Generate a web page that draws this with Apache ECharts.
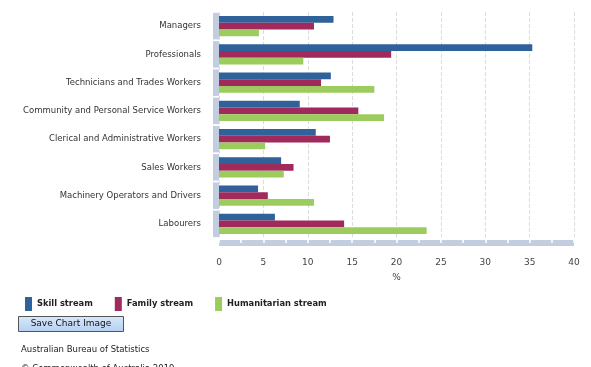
<!DOCTYPE html>
<html><head><meta charset="utf-8">
<script src="https://cdn.jsdelivr.net/npm/echarts@6/dist/echarts.min.js"></script>
<style>html,body{margin:0;padding:0;background:#fff}#c{width:591px;height:367px}</style>
</head><body><div id="c"></div>
<script>
const categories = ["Managers","Professionals","Technicians and Trades Workers","Community and Personal Service Workers","Clerical and Administrative Workers","Sales Workers","Machinery Operators and Drivers","Labourers"];
const skill = [12.9, 35.3, 12.6, 9.1, 10.9, 7.0, 4.4, 6.3];
const family = [10.7, 19.4, 11.5, 15.7, 12.5, 8.4, 5.5, 14.1];
const humanitarian = [4.5, 9.5, 17.5, 18.6, 5.2, 7.3, 10.7, 23.4];
const xTicks = [0, 5, 10, 15, 20, 25, 30, 35, 40];

const font = "DejaVu Sans";
const wallColor = '#c3cde0';
const chart = echarts.init(document.getElementById('c'), null, {renderer:'canvas'});
chart.setOption({
  animation:false,
  textStyle:{fontFamily:font},
  grid:[
    {left:219, right:17, top:12, bottom:129, containLabel:false},
    {left:213, width:6, top:12, bottom:129, containLabel:false}
  ],
  legend:{
    left:20, top:292, itemWidth:7, itemHeight:14, itemGap:22,
    icon:'rect',
    textStyle:{fontFamily:font, fontSize:8.3, fontWeight:'bold', color:'#222'},
    data:['Skill stream','Family stream','Humanitarian stream']
  },
  xAxis:[{
    gridIndex:0,
    type:'value', min:xTicks[0], max:xTicks[xTicks.length-1], interval:5,
    name:'%', nameLocation:'middle', nameGap:30,
    nameTextStyle:{fontFamily:font, fontSize:9, color:'#444'},
    offset:5,
    axisLine:{show:true, lineStyle:{color:wallColor, width:6, cap:'butt'}},
    axisTick:{show:true, inside:true, length:6, lineStyle:{color:'#fff', width:1.5}},
    minorTick:{show:true, splitNumber:2, length:6, lineStyle:{color:'#fff', width:1.5}},
    axisLabel:{fontFamily:font, fontSize:9, color:'#444', margin:15},
    splitLine:{show:true, lineStyle:{color:'#dcdcdc', type:'dashed', width:1}}
  },{
    gridIndex:1, type:'value', min:0, max:1, show:false
  }],
  yAxis:[{
    gridIndex:0,
    type:'category', data:categories, inverse:true,
    axisLine:{show:false},
    axisTick:{show:false},
    axisLabel:{fontFamily:font, fontSize:8.5, color:'#333', margin:18}
  },{
    gridIndex:1, type:'category', data:categories, inverse:true, show:false
  }],
  series:[
    {name:'Skill stream', type:'bar', data:skill, barGap:'0%', barCategoryGap:'28%', itemStyle:{color:'#2f619b'}},
    {name:'Family stream', type:'bar', data:family, barGap:'0%', barCategoryGap:'28%', itemStyle:{color:'#a02a5c'}},
    {name:'Humanitarian stream', type:'bar', data:humanitarian, barGap:'0%', barCategoryGap:'28%', itemStyle:{color:'#9ccc5e'}},
    {name:'wall', type:'bar', xAxisIndex:1, yAxisIndex:1, data:categories.map(()=>1), barCategoryGap:'6%', itemStyle:{color:wallColor}, silent:true, legendHoverLink:false}
  ],
  graphic:[
    {type:'group', left:18, top:316, children:[
      {type:'rect', shape:{x:0,y:0,width:105,height:15},
        style:{fill:new echarts.graphic.LinearGradient(0,0,0,1,[{offset:0,color:'#dbe9fb'},{offset:1,color:'#b3cff2'}]), stroke:'#555', lineWidth:1}},
      {type:'text', x:52.5, y:7.5, style:{text:'Save Chart Image', fontFamily:font, fontSize:9, fill:'#111', align:'center', verticalAlign:'middle'}}
    ]},
    {type:'text', left:21, top:345, style:{text:'Australian Bureau of Statistics', fontFamily:font, fontSize:8.5, fill:'#222'}},
    {type:'text', left:21, top:364, style:{text:'© Commonwealth of Australia 2019', fontFamily:font, fontSize:8.5, fill:'#222'}}
  ]
});
</script></body></html>
